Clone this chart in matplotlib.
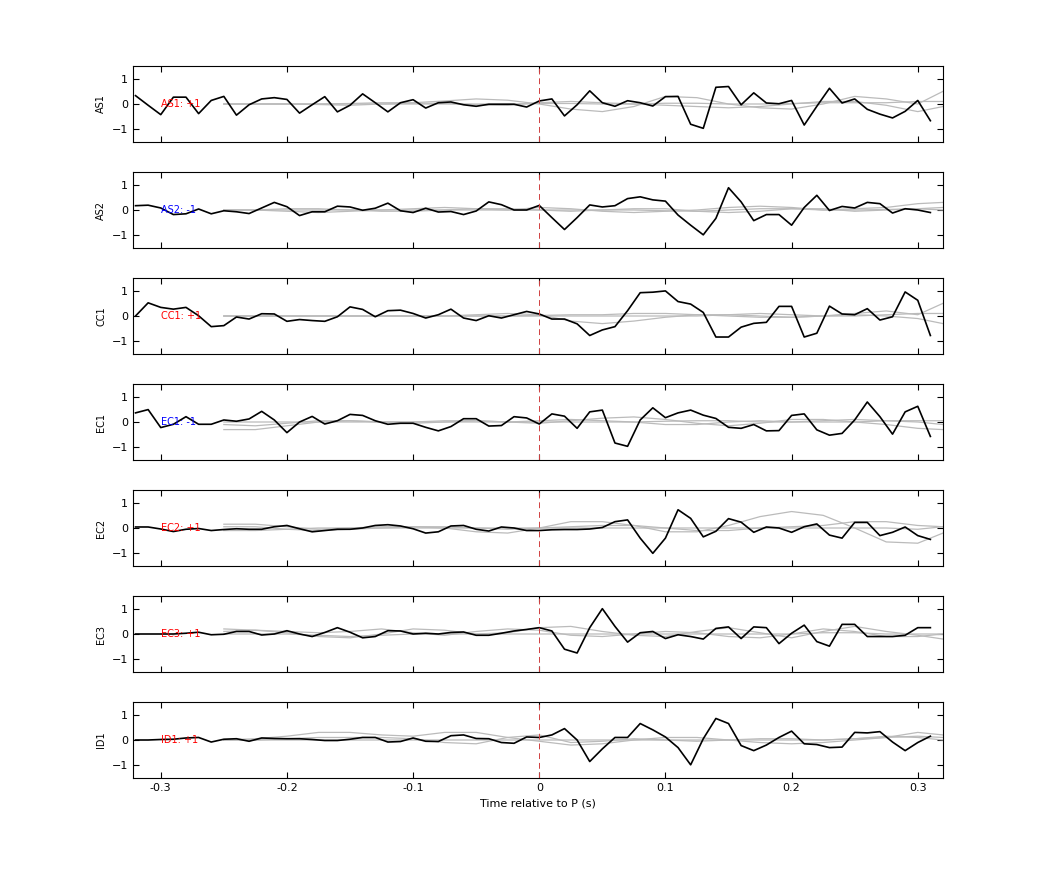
import numpy as np
import matplotlib
matplotlib.use('Agg')
import matplotlib.pyplot as plt

stations = ['AS1', 'AS2', 'CC1', 'EC1', 'EC2', 'EC3', 'ID1']
polarity = [1, -1, 1, -1, 1, 1, 1]

t = np.round(np.arange(-0.32, 0.315, 0.01), 2)

as1 = [0.33, -0.05, -0.42, 0.27, 0.27, -0.38, 0.14, 0.3, -0.44, -0.03, 0.2, 0.25, 0.18, -0.36, -0.03, 0.29,
       -0.31, -0.05, 0.4, 0.05, -0.31, 0.05, 0.17, -0.16, 0.05, 0.08, -0.03, -0.09, -0.01, -0.01, -0.01, -0.12,
       0.12, 0.2, -0.47, -0.03, 0.52, 0.05, -0.09, 0.13, 0.05, -0.08, 0.29, 0.3, -0.8, -0.96, 0.66, 0.69,
       -0.03, 0.44, 0.04, 0.01, 0.14, -0.83, -0.09, 0.62, 0.04, 0.2, -0.21, -0.4, -0.55, -0.29, 0.14, -0.66]
as2 = [0.17, 0.19, 0.08, -0.18, -0.15, 0.04, -0.15, -0.03, -0.07, -0.14, 0.08, 0.3, 0.13, -0.22, -0.07, -0.07,
       0.15, 0.12, -0.01, 0.07, 0.27, -0.03, -0.1, 0.07, -0.08, -0.06, -0.18, -0.04, 0.32, 0.21, 0.0, 0.0,
       0.18, -0.3, -0.77, -0.3, 0.2, 0.12, 0.17, 0.45, 0.52, 0.4, 0.35, -0.2, -0.6, -0.98, -0.33, 0.88,
       0.32, -0.42, -0.18, -0.18, -0.6, 0.1, 0.58, -0.02, 0.14, 0.08, 0.3, 0.25, -0.12, 0.05, 0.0, -0.1]
cc1 = [0.0, 0.52, 0.34, 0.27, 0.34, 0.01, -0.42, -0.38, -0.04, -0.12, 0.09, 0.08, -0.21, -0.14, -0.18, -0.21,
       -0.03, 0.36, 0.26, -0.03, 0.21, 0.23, 0.1, -0.08, 0.05, 0.27, -0.08, -0.18, 0.01, -0.08, 0.05, 0.18,
       0.08, -0.12, -0.12, -0.31, -0.77, -0.55, -0.42, 0.21, 0.92, 0.94, 0.99, 0.57, 0.47, 0.14, -0.83, -0.83,
       -0.44, -0.29, -0.25, 0.38, 0.38, -0.83, -0.68, 0.39, 0.08, 0.05, 0.29, -0.16, -0.03, 0.95, 0.62, -0.77]
ec1 = [0.36, 0.49, -0.22, -0.09, 0.21, -0.09, -0.09, 0.08, 0.03, 0.12, 0.42, 0.08, -0.42, 0.0, 0.22, -0.08,
       0.05, 0.3, 0.26, 0.05, -0.09, -0.05, -0.05, -0.21, -0.35, -0.18, 0.13, 0.13, -0.16, -0.14, 0.21, 0.16,
       -0.08, 0.32, 0.23, -0.25, 0.4, 0.47, -0.83, -0.96, 0.08, 0.56, 0.17, 0.36, 0.47, 0.27, 0.14, -0.21,
       -0.25, -0.1, -0.35, -0.34, 0.26, 0.32, -0.31, -0.52, -0.45, 0.08, 0.79, 0.21, -0.48, 0.4, 0.62, -0.57]
ec2 = [0.04, 0.04, -0.04, -0.14, -0.05, -0.02, -0.1, -0.06, -0.03, -0.05, -0.05, 0.05, 0.1, -0.03, -0.15, -0.1,
       -0.05, -0.05, 0.0, 0.1, 0.13, 0.08, -0.03, -0.2, -0.15, 0.08, 0.1, -0.05, -0.12, 0.04, 0.0, -0.1,
       -0.1, -0.07, -0.06, -0.06, -0.04, 0.02, 0.25, 0.32, -0.4, -1.0, -0.4, 0.72, 0.38, -0.35, -0.13, 0.37,
       0.23, -0.17, 0.04, 0.0, -0.17, 0.05, 0.16, -0.28, -0.4, 0.22, 0.22, -0.3, -0.17, 0.04, -0.3, -0.45]
ec3 = [0.0, 0.0, 0.0, 0.0, 0.03, 0.07, -0.03, -0.01, 0.1, 0.1, -0.04, 0.0, 0.13, 0.0, -0.1, 0.06,
       0.25, 0.07, -0.15, -0.1, 0.13, 0.12, 0.0, 0.03, 0.0, 0.06, 0.08, -0.05, -0.05, 0.03, 0.12, 0.18,
       0.25, 0.12, -0.6, -0.75, 0.25, 1.0, 0.3, -0.32, 0.05, 0.1, -0.18, -0.03, -0.1, -0.2, 0.22, 0.28,
       -0.18, 0.28, 0.25, -0.38, 0.03, 0.35, -0.3, -0.48, 0.38, 0.38, -0.1, -0.1, -0.1, -0.05, 0.25, 0.25]
id1 = [0.0, 0.0, 0.02, 0.03, 0.08, 0.1, -0.08, 0.03, 0.05, -0.05, 0.08, 0.06, 0.05, 0.05, 0.02, -0.02,
       -0.02, 0.03, 0.1, 0.1, -0.08, -0.06, 0.08, -0.05, -0.06, 0.17, 0.2, 0.06, 0.05, -0.1, -0.13, 0.12,
       0.1, 0.2, 0.45, 0.0, -0.85, -0.35, 0.1, 0.1, 0.65, 0.4, 0.12, -0.3, -0.98, 0.05, 0.85, 0.65,
       -0.22, -0.42, -0.2, 0.1, 0.35, -0.15, -0.18, -0.3, -0.28, 0.3, 0.28, 0.33, -0.08, -0.42, -0.1, 0.15]
traces = [as1, as2, cc1, ec1, ec2, ec3, id1]

# grey model curves, coarse samples
tg = [-0.25, -0.225, -0.2, -0.175, -0.15, -0.125, -0.1, -0.075, -0.05, -0.025, 0.0, 0.025, 0.05, 0.075,
      0.1, 0.125, 0.15, 0.175, 0.2, 0.225, 0.25, 0.275, 0.3, 0.32]
greys = [
    [[0, 0, 0, 0, 0.02, 0.05, 0.05, 0.12, 0.2, 0.15, 0.0, -0.2, -0.3, -0.1, 0.3, 0.25, 0.0, -0.15, -0.2, 0.0, 0.3, 0.2, 0.0, 0.5],
     [0, 0, 0, -0.02, -0.05, 0, 0.03, 0.03, -0.03, -0.05, 0.05, 0.1, 0.05, 0.0, -0.05, -0.1, -0.15, -0.1, 0.0, 0.1, 0.1, -0.05, -0.3, -0.1],
     [0, 0, 0, 0, 0, 0, 0, 0, 0, 0, 0.02, 0.02, 0, 0, 0.03, 0.03, 0, 0, 0.02, 0.05, 0.05, 0.05, 0.1, 0.1]],
    [[0, 0, -0.05, -0.1, -0.05, 0, 0.05, 0.1, 0.05, 0.0, 0.1, 0.05, -0.05, -0.1, -0.05, 0.0, 0.1, 0.15, 0.1, 0.0, 0.05, 0.1, 0.25, 0.3],
     [0, 0, 0.05, 0.05, 0, -0.05, -0.05, 0, 0.05, 0.05, 0, -0.05, 0, 0.05, 0.05, -0.05, -0.1, -0.05, 0.05, 0.05, -0.05, 0.0, 0.05, 0.0],
     [0, 0, 0, 0, 0, 0, 0, 0, 0, 0, 0, 0, 0, 0, -0.03, -0.05, 0, 0.05, 0.05, 0, 0, 0.02, 0.05, 0.1]],
    [[0, 0, 0, 0, 0, 0, 0, 0, 0.05, 0.1, 0.05, -0.2, -0.3, -0.2, -0.05, 0.05, 0.05, 0.0, -0.05, 0.0, 0.1, 0.2, 0.05, 0.5],
     [0, 0, 0, 0, 0, 0, 0, 0, 0, 0, 0.02, 0.05, 0.05, 0.1, 0.1, 0.05, 0, -0.05, -0.05, 0, 0.05, 0.0, -0.1, -0.3],
     [0, 0, 0, 0, 0, 0, 0, 0, 0, 0, 0, 0, 0, 0, 0, 0, 0.05, 0.1, 0.05, 0, 0, 0.05, 0.1, 0.1]],
    [[-0.3, -0.3, -0.15, 0, 0.05, 0, -0.05, 0, 0.05, 0, -0.05, 0.05, 0.15, 0.2, 0.1, -0.05, -0.15, -0.05, 0.1, 0.1, 0.0, -0.1, -0.25, -0.3],
     [-0.1, -0.15, -0.05, 0.05, 0.05, 0, 0, 0.05, 0.05, 0, 0.05, 0.1, 0.05, 0, -0.1, -0.1, 0, 0.05, 0.0, 0.05, 0.1, 0.05, 0, -0.1],
     [0, 0, 0, 0, 0, 0, 0, 0, 0, 0, 0, 0, 0, 0, 0.03, 0.05, 0.05, 0, 0, 0, 0, 0.05, 0.05, 0.05]],
    [[0.15, 0.15, 0.05, -0.05, 0.0, 0.05, 0.05, 0.0, -0.15, -0.2, 0.0, 0.25, 0.25, 0.1, -0.15, -0.15, 0.1, 0.45, 0.65, 0.5, 0.0, -0.55, -0.6, -0.2],
     [0.05, 0.05, -0.05, -0.1, -0.05, 0, 0.05, 0.05, 0, -0.05, 0, 0.05, 0.1, 0.1, 0, -0.1, -0.1, 0, 0.05, 0.1, 0.25, 0.25, 0.1, 0.05],
     [-0.1, -0.1, -0.05, 0, 0, 0, 0, 0, 0, 0, 0, 0, 0, 0, 0, 0, 0, 0, 0, 0, 0, 0, -0.05, 0.05]],
    [[0.2, 0.15, 0.05, -0.1, -0.15, 0.0, 0.2, 0.15, 0.0, 0.05, 0.25, 0.3, 0.1, -0.05, -0.1, 0.1, 0.25, 0.05, -0.15, 0.1, 0.3, 0.1, -0.05, -0.2],
     [0.1, 0.15, 0.1, 0.05, 0.1, 0.2, 0.05, -0.05, 0.1, 0.2, 0.15, -0.05, -0.1, 0.0, 0.1, 0.05, -0.1, -0.15, 0.0, 0.2, 0.1, -0.1, -0.1, 0.0],
     [0, 0, 0, -0.05, -0.1, -0.05, 0, 0, 0, 0, 0, 0, 0, 0, 0, 0, 0, 0, 0, 0.05, 0.05, 0, 0, 0]],
    [[0, 0.05, 0.15, 0.3, 0.3, 0.2, 0.15, 0.3, 0.3, 0.1, -0.05, -0.2, -0.15, 0.0, 0.1, 0.1, 0.0, -0.1, -0.15, -0.1, 0.0, 0.1, 0.3, 0.2],
     [0, 0, 0.05, 0.1, 0.1, 0.1, 0.05, -0.1, -0.15, 0.1, 0.2, -0.1, -0.05, 0.05, 0.0, -0.05, 0.0, 0.05, 0.05, 0.0, 0.05, 0.15, 0.1, 0.0],
     [0, 0, 0, 0, 0, 0, 0, 0, 0, 0, 0, 0, 0, 0, 0, 0, 0, 0, 0, 0, 0.05, 0.1, 0.15, 0.1]],
]

fig = plt.figure(figsize=(10.42, 8.75), dpi=100)
left, width = 133 / 1042, 810 / 1042
height = 76 / 875
tops = [66, 172, 278, 384, 490, 596, 702]

for i, name in enumerate(stations):
    ax = fig.add_axes([left, 1 - (tops[i] + 76) / 875, width, height])
    for g in greys[i]:
        ax.plot(tg, g, color='#bbbbbb', lw=0.9)
    ax.plot(t, traces[i], color='black', lw=1.2)
    ax.axvline(0, color='#d04040', ls=(0, (6, 4)), lw=0.7)
    col = 'red' if polarity[i] > 0 else 'blue'
    ax.text(-0.3, 0, '%s: %+d' % (name, polarity[i]), color=col, fontsize=7, va='center')
    ax.set_xlim(-0.322, 0.32)
    ax.set_ylim(-1.5, 1.5)
    ax.set_yticks([-1, 0, 1])
    ax.set_xticks([-0.3, -0.2, -0.1, 0, 0.1, 0.2, 0.3])
    ax.tick_params(direction='in', top=True, right=True, labelsize=8, length=4)
    ax.set_ylabel(name, fontsize=7)
    if i < len(stations) - 1:
        ax.set_xticklabels([])
    else:
        ax.set_xticklabels(['-0.3', '-0.2', '-0.1', '0', '0.1', '0.2', '0.3'])
        ax.set_xlabel('Time relative to P (s)', fontsize=8)

fig.savefig('out.png', dpi=100)
